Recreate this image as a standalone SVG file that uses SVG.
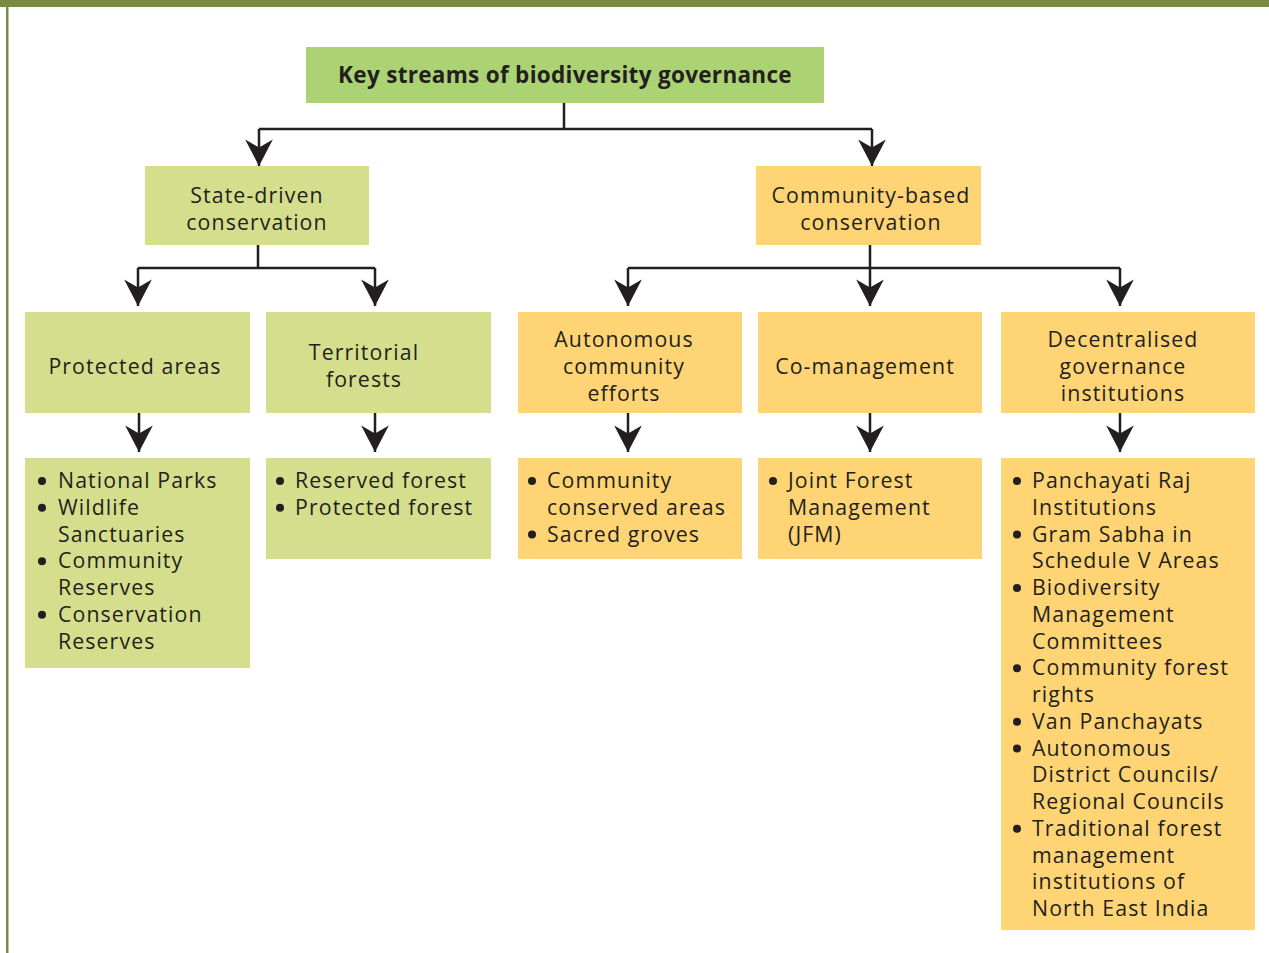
<svg xmlns="http://www.w3.org/2000/svg" width="1269" height="953" viewBox="0 0 1269 953">
<style>
.g{fill:#d5de8c}
.o{fill:#ffd475}
.t{font-family:"Open Sans","Noto Sans","Liberation Sans",sans-serif;font-size:21.3px;letter-spacing:1.1px;fill:#231f20}
.c{text-anchor:middle}
.b{font-weight:bold;font-size:22.5px;letter-spacing:0.3px}
.ln{fill:none;stroke:#231f20;stroke-width:2.5}
.dot{fill:#231f20}
</style>
<defs>
<marker id="ah" markerUnits="userSpaceOnUse" markerWidth="30" markerHeight="30" viewBox="-24 -13 26 26" refX="0" refY="0" orient="auto">
<path d="M0,0 L-23,-12 L-16,0 L-23,12 Z" fill="#231f20"/>
</marker>
</defs>
<rect x="0" y="0" width="1269" height="953" fill="#ffffff"/>
<rect x="0" y="0" width="1269" height="7" fill="#7b8b43"/>
<rect x="6" y="0" width="2.5" height="953" fill="#7b8b43"/>

<g id="connectors">
<path class="ln" d="M564,103 V129"/>
<path class="ln" d="M259,129 H872"/>
<path class="ln" d="M259,129 V166" marker-end="url(#ah)"/>
<path class="ln" d="M872,129 V166" marker-end="url(#ah)"/>
<path class="ln" d="M258,245 V268"/>
<path class="ln" d="M138,268 H375"/>
<path class="ln" d="M138,268 V306" marker-end="url(#ah)"/>
<path class="ln" d="M375,268 V306" marker-end="url(#ah)"/>
<path class="ln" d="M870,245 V268"/>
<path class="ln" d="M628,268 H1120"/>
<path class="ln" d="M628,268 V306" marker-end="url(#ah)"/>
<path class="ln" d="M870,268 V306" marker-end="url(#ah)"/>
<path class="ln" d="M1120,268 V306" marker-end="url(#ah)"/>
<path class="ln" d="M139,413 V452" marker-end="url(#ah)"/>
<path class="ln" d="M375,413 V452" marker-end="url(#ah)"/>
<path class="ln" d="M628,413 V452" marker-end="url(#ah)"/>
<path class="ln" d="M870,413 V452" marker-end="url(#ah)"/>
<path class="ln" d="M1120,413 V452" marker-end="url(#ah)"/>
</g>

<g id="root">
<rect x="306" y="47" width="518" height="56" fill="#acd373"/>
<text class="t c b" x="565" y="83">Key streams of biodiversity governance</text>
</g>

<g id="state">
<rect class="g" x="145" y="166" width="224" height="79"/>
<text class="t c" x="257" y="203">State-driven</text>
<text class="t c" x="257" y="230">conservation</text>
</g>

<g id="community">
<rect class="o" x="756" y="166" width="225" height="79"/>
<text class="t c" x="871" y="203">Community-based</text>
<text class="t c" x="871" y="230">conservation</text>
</g>

<g id="protected">
<rect class="g" x="25" y="312" width="225" height="101"/>
<text class="t c" x="135" y="374">Protected areas</text>
</g>

<g id="territorial">
<rect class="g" x="266" y="312" width="225" height="101"/>
<text class="t c" x="364" y="360">Territorial</text>
<text class="t c" x="364" y="387">forests</text>
</g>

<g id="autonomous">
<rect class="o" x="518" y="312" width="224" height="101"/>
<text class="t c" x="624" y="347">Autonomous</text>
<text class="t c" x="624" y="373.75">community</text>
<text class="t c" x="624" y="400.5">efforts</text>
</g>

<g id="comanagement">
<rect class="o" x="758" y="312" width="224" height="101"/>
<text class="t c" x="865" y="374">Co-management</text>
</g>

<g id="decentralised">
<rect class="o" x="1001" y="312" width="254" height="101"/>
<text class="t c" x="1123" y="347">Decentralised</text>
<text class="t c" x="1123" y="373.75">governance</text>
<text class="t c" x="1123" y="400.5">institutions</text>
</g>

<g id="protected-list">
<rect class="g" x="25" y="458" width="225" height="210"/>
<circle class="dot" cx="42" cy="481" r="4"/>
<circle class="dot" cx="42" cy="507.75" r="4"/>
<circle class="dot" cx="42" cy="561.25" r="4"/>
<circle class="dot" cx="42" cy="614.75" r="4"/>
<text class="t" x="58" y="488">National Parks</text>
<text class="t" x="58" y="514.75">Wildlife</text>
<text class="t" x="58" y="541.5">Sanctuaries</text>
<text class="t" x="58" y="568.25">Community</text>
<text class="t" x="58" y="595">Reserves</text>
<text class="t" x="58" y="621.75">Conservation</text>
<text class="t" x="58" y="648.5">Reserves</text>
</g>

<g id="territorial-list">
<rect class="g" x="266" y="458" width="225" height="101"/>
<circle class="dot" cx="280" cy="481" r="4"/>
<circle class="dot" cx="280" cy="507.75" r="4"/>
<text class="t" x="295" y="488">Reserved forest</text>
<text class="t" x="295" y="514.75">Protected forest</text>
</g>

<g id="autonomous-list">
<rect class="o" x="518" y="458" width="224" height="101"/>
<circle class="dot" cx="532" cy="481" r="4"/>
<circle class="dot" cx="532" cy="534.5" r="4"/>
<text class="t" x="547" y="488">Community</text>
<text class="t" x="547" y="514.75">conserved areas</text>
<text class="t" x="547" y="541.5">Sacred groves</text>
</g>

<g id="comanagement-list">
<rect class="o" x="758" y="458" width="224" height="101"/>
<circle class="dot" cx="773" cy="481" r="4"/>
<text class="t" x="788" y="488">Joint Forest</text>
<text class="t" x="788" y="514.75">Management</text>
<text class="t" x="788" y="541.5">(JFM)</text>
</g>

<g id="decentralised-list">
<rect class="o" x="1001" y="458" width="254" height="472"/>
<circle class="dot" cx="1017" cy="481" r="4"/>
<circle class="dot" cx="1017" cy="534.5" r="4"/>
<circle class="dot" cx="1017" cy="588" r="4"/>
<circle class="dot" cx="1017" cy="668.25" r="4"/>
<circle class="dot" cx="1017" cy="721.75" r="4"/>
<circle class="dot" cx="1017" cy="748.5" r="4"/>
<circle class="dot" cx="1017" cy="828.75" r="4"/>
<text class="t" x="1032" y="488">Panchayati Raj</text>
<text class="t" x="1032" y="514.75">Institutions</text>
<text class="t" x="1032" y="541.5">Gram Sabha in</text>
<text class="t" x="1032" y="568.25">Schedule V Areas</text>
<text class="t" x="1032" y="595">Biodiversity</text>
<text class="t" x="1032" y="621.75">Management</text>
<text class="t" x="1032" y="648.5">Committees</text>
<text class="t" x="1032" y="675.25">Community forest</text>
<text class="t" x="1032" y="702">rights</text>
<text class="t" x="1032" y="728.75">Van Panchayats</text>
<text class="t" x="1032" y="755.5">Autonomous</text>
<text class="t" x="1032" y="782.25">District Councils/</text>
<text class="t" x="1032" y="809">Regional Councils</text>
<text class="t" x="1032" y="835.75">Traditional forest</text>
<text class="t" x="1032" y="862.5">management</text>
<text class="t" x="1032" y="889.25">institutions of</text>
<text class="t" x="1032" y="916">North East India</text>
</g>
</svg>
